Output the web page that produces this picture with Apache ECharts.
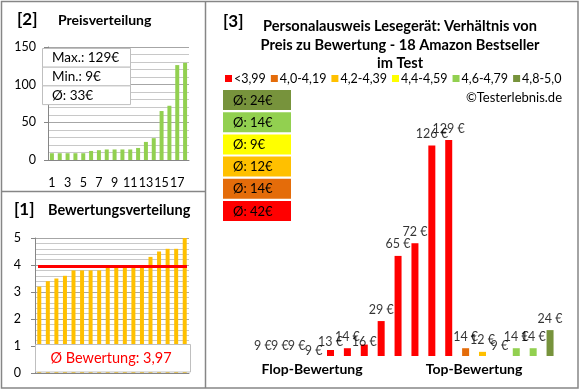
<!DOCTYPE html>
<html><head><meta charset="utf-8">
<script src="https://cdn.jsdelivr.net/npm/echarts@6/dist/echarts.min.js"></script>
<style>html,body{margin:0;padding:0;background:#fff}#c{width:580px;height:390px}</style>
</head><body><div id="c"></div>
<script>
// ---- data ----
const rankCategories = ['1','2','3','4','5','6','7','8','9','10','11','12','13','14','15','16','17','18'];
const pricesSorted = [9,9,9,9,9,12,13,14,14,14,14,16,24,29,65,72,126,129];
const priceTicks = [0, 150, 50];           // min, max, step
const ratingsSorted = [3.2,3.4,3.5,3.6,3.8,3.8,3.8,3.8,3.9,3.9,3.9,3.9,3.9,4.3,4.5,4.6,4.6,5.0];
const ratingTicks = [0, 5, 1];             // min, max, step
const prices = [9,9,9,9,13,14,16,29,65,72,126,129,14,12,9,14,14,24];
const ratingClass = [0,0,0,0,0,0,0,0,0,0,0,0,1,2,3,4,4,5];
const classNames = ['<3,99','4,0-4,19','4,2-4,39','4,4-4,59','4,6-4,79','4,8-5,0'];
const groupLabels = ['Flop-Bewertung','Top-Bewertung'];
const mainTitle = ['Personalausweis Lesegerät: Verhältnis von','Preis zu Bewertung - 18 Amazon Bestseller','im Test'];
const credit = '©Testerlebnis.de';

// ---- styles ----
const classColors = ['#FF0000','#E46C0A','#FFC000','#FFFF00','#92D050','#77933C'];
const FONT = 'Lato';
const axisGray = '#868686', gridGray = '#A6A6A6', minorGray = '#C8C8C8';

const fmtDE = (v, d) => v.toFixed(d).replace('.', ',');
const avgRating = ratingsSorted.reduce((a,b)=>a+b,0) / ratingsSorted.length;
const avgPrice = pricesSorted.reduce((a,b)=>a+b,0) / pricesSorted.length;
const maxPrice = Math.max(...pricesSorted), minPrice = Math.min(...pricesSorted);
const classAvg = classNames.map((_, k) => {
  const v = prices.filter((p, i) => ratingClass[i] === k);
  return Math.round(v.reduce((a,b)=>a+b,0) / v.length);
});

// label nudges for crowded small bars (pixels)
const labelNudge = {3: 5, 4: 3, 6: 9};

const chart = echarts.init(document.getElementById('c'), null, {renderer: 'canvas'});

const smallAxisY = (t, grid, margin) => ({
  type: 'value', gridIndex: grid, min: t[0], max: t[1], interval: t[2],
  axisLine: {show: true, lineStyle: {color: axisGray}},
  axisTick: {show: true, length: 4, lineStyle: {color: axisGray}},
  axisLabel: {fontSize: 12.5, color: '#000', margin: margin, fontFamily: FONT},
  splitLine: {show: true, lineStyle: {color: gridGray, width: 1}},
  minorTick: {show: false, splitNumber: 5},
  minorSplitLine: {show: true, lineStyle: {color: minorGray, width: 1}}
});

const series = [
  {type: 'bar', xAxisIndex: 0, yAxisIndex: 0, data: pricesSorted, barWidth: 4,
   itemStyle: {color: '#92D050'}, silent: true},
  {type: 'bar', xAxisIndex: 1, yAxisIndex: 1, data: ratingsSorted, barWidth: 4,
   itemStyle: {color: '#FFC000'}, silent: true,
   markLine: {silent: true, symbol: ['none','none'], label: {show: false}, z: 10,
     lineStyle: {color: '#FF0000', width: 3, type: 'solid', opacity: 1},
     emphasis: {disabled: true},
     data: [[{xAxis: 0, yAxis: avgRating, x: 38}, {xAxis: 17, yAxis: avgRating, x: 187}]]}}
];
classNames.forEach((name, k) => {
  series.push({
    type: 'bar', name: name, xAxisIndex: 2, yAxisIndex: 2, barWidth: 7, barGap: '-100%',
    itemStyle: {color: classColors[k]}, silent: true,
    data: prices.map((p, i) => ratingClass[i] === k ? p : null)
  });
});
series.push({
  type: 'scatter', xAxisIndex: 2, yAxisIndex: 2, clip: false, symbolSize: 0.1,
  itemStyle: {color: 'rgba(0,0,0,0)'}, silent: true,
  data: prices.map((p, i) => ({value: [i, p],
    label: labelNudge[i] ? {offset: [0, labelNudge[i]]} : undefined})),
  label: {show: true, position: 'top', distance: 5, fontSize: 12.5, color: '#000', fontFamily: FONT,
    formatter: p => p.value[1] + ' €'}
});

const gtext = (text, x, y, font, opts) => Object.assign({
  type: 'text', z: 100, style: Object.assign({text, x, y, font, fill: '#000',
    textAlign: 'left', verticalAlign: 'middle'}, (opts||{}).style || {})
}, opts && opts.el || {});

const graphics = [];
// frame
graphics.push({type: 'rect', z: 100, shape: {x: 1.5, y: 1.5, width: 576.5, height: 386.5},
  style: {fill: 'none', stroke: axisGray, lineWidth: 1.5}});
graphics.push({type: 'line', z: 100, shape: {x1: 205.5, y1: 1.5, x2: 205.5, y2: 388},
  style: {stroke: axisGray, lineWidth: 1.5}});
graphics.push({type: 'line', z: 100, shape: {x1: 1.5, y1: 191.5, x2: 205.5, y2: 191.5},
  style: {stroke: axisGray, lineWidth: 1.5}});
// panel titles
graphics.push(gtext('[2]', 17, 20, 'bold 17px ' + FONT));
graphics.push(gtext('Preisverteilung', 58, 20, 'bold 14px ' + FONT));
graphics.push(gtext('[1]', 14, 210, 'bold 17px ' + FONT));
graphics.push(gtext('Bewertungsverteilung', 48, 210, 'bold 14.5px ' + FONT));
graphics.push(gtext('[3]', 223, 22, 'bold 17px ' + FONT));
mainTitle.forEach((t, i) => graphics.push(gtext(t, 400, 26.5 + i * 18.5, 'bold 14.6px ' + FONT, {style: {textAlign: 'center'}})));
graphics.push(gtext(credit, 562, 98, '13px ' + FONT, {style: {textAlign: 'right'}}));
// price info box
const infoRows = ['Max.: ' + maxPrice + '€', 'Min.: ' + minPrice + '€', 'Ø: ' + Math.round(avgPrice) + '€'];
infoRows.forEach((t, i) => {
  graphics.push({type: 'rect', z: 100, shape: {x: 42.5, y: 48.5 + i * 18.7, width: 88, height: 18.7},
    style: {fill: '#fff', stroke: '#BFBFBF', lineWidth: 1}});
  graphics.push(gtext(t, 52, 58 + i * 18.7, '13.5px ' + FONT, {el: {z: 101}}));
});
// rating avg box
graphics.push({type: 'rect', z: 100, shape: {x: 35.5, y: 344.5, width: 155, height: 27.5},
  style: {fill: '#fff', stroke: '#BFBFBF', lineWidth: 1}});
graphics.push(gtext('Ø Bewertung: ' + fmtDE(avgRating, 2), 111, 358.5, '14.5px ' + FONT,
  {style: {textAlign: 'center', fill: '#FF0000'}, el: {z: 101}}));
// class average boxes (top: best class)
for (let r = 0; r < 6; r++) {
  const k = 5 - r;
  const y = 90 + r * 22.2;
  graphics.push({type: 'rect', z: 100, shape: {x: 223, y: y, width: 68, height: 20},
    style: {fill: classColors[k]}});
  graphics.push(gtext('Ø: ' + classAvg[k] + '€', 233, y + 10.5, '13px ' + FONT, {el: {z: 101}}));
}
// group labels
graphics.push(gtext(groupLabels[0], 312, 369, 'bold 14px ' + FONT, {style: {textAlign: 'center'}}));
graphics.push(gtext(groupLabels[1], 474, 369, 'bold 14px ' + FONT, {style: {textAlign: 'center'}}));

chart.setOption({
  animation: false,
  textStyle: {fontFamily: FONT},
  grid: [
    {left: 48, top: 47, width: 141, height: 113},
    {left: 35, top: 238, width: 154, height: 135},
    {left: 254.5, top: 129.2, width: 304, height: 226.8}
  ],
  xAxis: [
    {type: 'category', gridIndex: 0, data: rankCategories,
     axisLine: {lineStyle: {color: axisGray}}, axisTick: {show: false},
     axisLabel: {interval: 1, fontSize: 12.5, color: '#000', margin: 16, fontFamily: FONT}},
    {type: 'category', gridIndex: 1, data: rankCategories,
     axisLine: {lineStyle: {color: axisGray}}, axisTick: {show: false},
     axisLabel: {show: false}},
    {type: 'category', gridIndex: 2, data: rankCategories, show: false}
  ],
  yAxis: [
    smallAxisY(priceTicks, 0, 12),
    smallAxisY(ratingTicks, 1, 14),
    {type: 'value', gridIndex: 2, min: 9.7, max: 135, show: false}
  ],
  legend: {
    data: classNames, left: 225, top: 72, padding: 0, itemWidth: 7, itemHeight: 7, itemGap: 5,
    icon: 'rect', selectedMode: false,
    textStyle: {fontSize: 12.5, color: '#000', fontFamily: FONT, padding: [0, 0, 0, -3]}
  },
  series: series,
  graphic: graphics
});
</script></body></html>
